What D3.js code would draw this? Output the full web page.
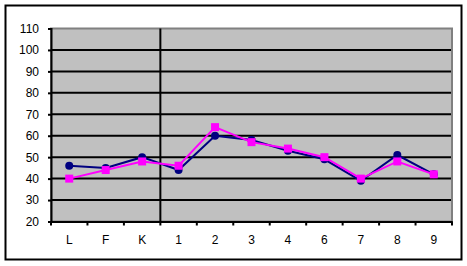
<!DOCTYPE html>
<html>
<head>
<meta charset="utf-8">
<script src="https://cdn.jsdelivr.net/npm/d3@7"></script>
<style>
  body { margin: 0; background: #fff; }
  text { font-family: "Liberation Sans", Arial, sans-serif; font-size: 11px; fill: #000; }
</style>
</head>
<body>
<script>
// Chart data
const categories = ["L", "F", "K", "1", "2", "3", "4", "6", "7", "8", "9"];
const seriesA = [46, 45, 50, 44, 60, 58, 53, 49, 39, 51, 42];   // navy, round markers
const seriesB = [40, 44, 48, 46, 64, 57, 54, 50, 40, 48, 42];   // magenta, square markers
const yTicks = [20, 30, 40, 50, 60, 70, 80, 90, 100, 110];
const splitAfter = "K";

const width = 467, height = 266;
const plot = { left: 51, right: 452, top: 28.5, bottom: 221.5 };

const svg = d3.select("body").append("svg")
    .attr("width", width)
    .attr("height", height);

// Outer chart border
svg.append("rect")
    .attr("x", 5.5).attr("y", 5.5)
    .attr("width", 456).attr("height", 254)
    .attr("fill", "#fff")
    .attr("stroke", "#000")
    .attr("stroke-width", 2);

const x = d3.scaleBand()
    .domain(categories)
    .range([plot.left, plot.right]);

const y = d3.scaleLinear()
    .domain([20, 110])
    .range([plot.bottom, plot.top]);

// Plot area
svg.append("rect")
    .attr("x", plot.left).attr("y", plot.top)
    .attr("width", plot.right - plot.left).attr("height", plot.bottom - plot.top)
    .attr("fill", "#c0c0c0")
    .attr("stroke", "#808080")
    .attr("stroke-width", 2);

// Horizontal gridlines
svg.append("g")
    .selectAll("line")
    .data(yTicks.filter(d => d > 20 && d < 110))
    .enter().append("line")
    .attr("x1", plot.left).attr("x2", plot.right - 1)
    .attr("y1", d => y(d)).attr("y2", d => y(d))
    .attr("stroke", "#000")
    .attr("stroke-width", 2);

// Separator between letter and number groups
const sepX = x(splitAfter) + x.bandwidth();
svg.append("line")
    .attr("x1", sepX).attr("x2", sepX)
    .attr("y1", plot.top).attr("y2", plot.bottom)
    .attr("stroke", "#000")
    .attr("stroke-width", 2);

// Y axis
const yAxis = svg.append("g")
    .attr("transform", `translate(${plot.left},0)`)
    .call(d3.axisLeft(y).tickValues(yTicks).tickSize(3).tickPadding(9));
yAxis.select(".domain").attr("stroke", "#000").attr("stroke-width", 2);
yAxis.selectAll(".tick line").attr("stroke", "#000").attr("stroke-width", 2);
yAxis.selectAll("text").style("font-size", "12px").attr("fill", "#000");

// X axis
const xAxis = svg.append("g")
    .attr("transform", `translate(0,${plot.bottom})`)
    .call(d3.axisBottom(x).tickSize(0).tickPadding(14));
xAxis.select(".domain").attr("stroke", "#000").attr("stroke-width", 2);
xAxis.selectAll("text").style("font-size", "12px").attr("fill", "#000");
xAxis.selectAll(".boundary")
    .data(categories.concat(["end"]).map((d, i) => plot.left + i * x.bandwidth()))
    .enter().append("line")
    .attr("x1", d => d).attr("x2", d => d)
    .attr("y1", 0).attr("y2", 4)
    .attr("stroke", "#000")
    .attr("stroke-width", 2);

const cx = (d, i) => x(categories[i]) + x.bandwidth() / 2;
const line = d3.line().x(cx).y(d => y(d));

// Navy series
svg.append("path")
    .datum(seriesA)
    .attr("d", line)
    .attr("fill", "none")
    .attr("stroke", "#000080")
    .attr("stroke-width", 2);
svg.append("g").selectAll("circle")
    .data(seriesA)
    .enter().append("circle")
    .attr("cx", cx).attr("cy", d => y(d))
    .attr("r", 4)
    .attr("fill", "#000080");

// Magenta series
svg.append("path")
    .datum(seriesB)
    .attr("d", line)
    .attr("fill", "none")
    .attr("stroke", "#ff00ff")
    .attr("stroke-width", 2);
svg.append("g").selectAll("rect.mk")
    .data(seriesB)
    .enter().append("rect")
    .attr("class", "mk")
    .attr("x", (d, i) => cx(d, i) - 4).attr("y", d => y(d) - 4)
    .attr("width", 8).attr("height", 8)
    .attr("fill", "#ff00ff");
</script>
</body>
</html>
